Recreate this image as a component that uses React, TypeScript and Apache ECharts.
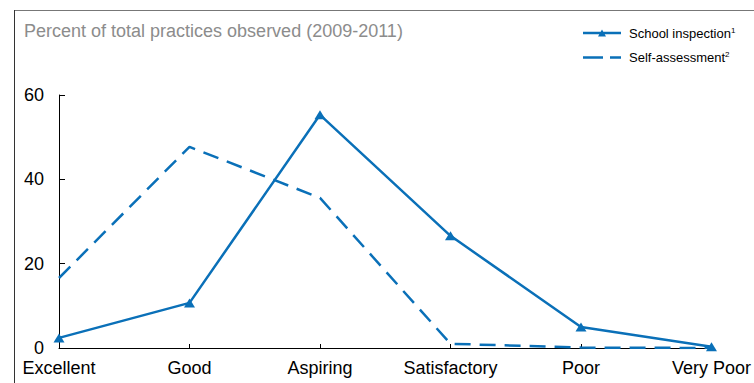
import React, { useEffect, useRef } from "react";
import * as echarts from "echarts";

const categories = ["Excellent", "Good", "Aspiring", "Satisfactory", "Poor", "Very Poor"];
const schoolInspection = [2.4, 10.7, 55.3, 26.6, 5.0, 0.3];
const selfAssessment = [16.6, 47.7, 35.6, 1.0, 0.1, 0.0];
const yTicks = { min: 0, max: 60, interval: 20 };
const titleText = "Percent of total practices observed (2009-2011)";
const seriesNames = ["School inspection", "Self-assessment"];
const footnotes = ["1", "2"];

const FONT = "'Liberation Sans', Arial, Helvetica, sans-serif";
const BLUE = "#0a70b8";

// legend icons drawn in a 38 x 10 box
const ICON_SOLID_TRI = "path://M0,3.8h38v2.4h-38z M15,8.5 L19,1.5 L23,8.5 Z";
const ICON_DASHED = "path://M0,3.8h20v2.4h-20z M27,3.8h11v2.4h-11z";

export default function App() {
  const ref = useRef<HTMLDivElement>(null);
  useEffect(() => {
    if (!ref.current) return;
    const chart = echarts.init(ref.current, null, { renderer: "svg" });
    chart.setOption({
      animation: false,
      backgroundColor: "#ffffff",
      textStyle: { fontFamily: FONT },
      grid: { left: 59, right: 40, top: 95, bottom: 35, containLabel: false },
      legend: {
        orient: "vertical",
        left: 583,
        top: 26,
        padding: 0,
        itemWidth: 38,
        itemHeight: 10,
        itemGap: 11,
        symbolKeepAspect: true,
        data: [
          { name: seriesNames[0], icon: ICON_SOLID_TRI },
          { name: seriesNames[1], icon: ICON_DASHED },
        ],
        formatter: (name: string) => {
          const i = seriesNames.indexOf(name);
          return `{t|${name}}{sup|${footnotes[i]}}`;
        },
        textStyle: {
          fontFamily: FONT,
          fontSize: 13,
          color: "#000",
          rich: {
            t: { fontSize: 13, color: "#000", fontFamily: FONT, padding: [0, 0, 0, 3] },
            sup: { fontSize: 8, verticalAlign: "top", padding: [0, 0, 6, 0], color: "#000", fontFamily: FONT },
          },
        },
      },
      xAxis: {
        type: "category",
        data: categories,
        boundaryGap: false,
        axisLine: { show: true, lineStyle: { color: "#000", width: 1 } },
        axisTick: { show: true, inside: true, length: 4, lineStyle: { color: "#000" } },
        axisLabel: { color: "#000", fontSize: 18, fontFamily: FONT, margin: 11, interval: 0 },
        splitLine: { show: false },
      },
      yAxis: {
        type: "value",
        min: yTicks.min,
        max: yTicks.max,
        interval: yTicks.interval,
        axisLine: { show: true, lineStyle: { color: "#000", width: 1 } },
        axisTick: { show: true, inside: true, length: 6, lineStyle: { color: "#000" } },
        axisLabel: { color: "#000", fontSize: 18, fontFamily: FONT, margin: 15 },
        splitLine: { show: false },
      },
      series: [
        {
          name: seriesNames[0],
          type: "line",
          data: schoolInspection,
          symbol: "triangle",
          symbolSize: [11, 9],
          showSymbol: true,
          itemStyle: { color: BLUE },
          lineStyle: { color: BLUE, width: 2.5 },
          z: 3,
        },
        {
          name: seriesNames[1],
          type: "line",
          data: selfAssessment,
          symbol: "none",
          itemStyle: { color: BLUE },
          lineStyle: { color: BLUE, width: 2.5, type: [16, 9] },
          z: 2,
        },
      ],
      graphic: [
        {
          type: "line",
          shape: { x1: 14, y1: 10.5, x2: 754, y2: 10.5 },
          style: { stroke: "#777", lineWidth: 1 },
        },
        {
          type: "line",
          shape: { x1: 14.5, y1: 10, x2: 14.5, y2: 383 },
          style: { stroke: "#333", lineWidth: 1 },
        },
        {
          type: "text",
          x: 24,
          y: 31,
          style: {
            text: titleText,
            fill: "#8c8c8c",
            fontSize: 18,
            fontFamily: FONT,
            verticalAlign: "middle",
          },
        },
      ],
    });
    return () => chart.dispose();
  }, []);
  return (
    <div
      ref={ref}
      style={{ position: "fixed", left: 0, top: 0, width: 754, height: 383 }}
    />
  );
}
